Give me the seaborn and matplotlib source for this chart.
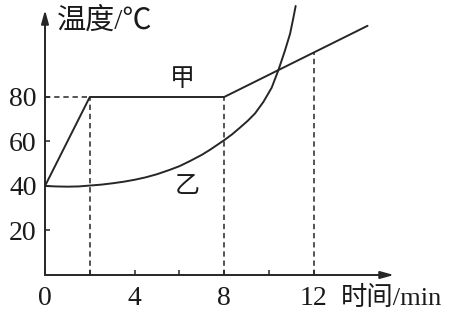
import matplotlib
matplotlib.use("Agg")
import matplotlib.pyplot as plt
import seaborn as sns
import pandas as pd

# Data
jia_time = [0, 2, 8, 12, 14.4]
jia_temp = [40, 80, 80, 100, 112]
yi_time = [0, 0.5, 1, 1.5, 2, 2.5, 3, 3.5, 4, 4.5, 5, 5.58, 6, 6.47, 7, 7.37, 8.0,
           8.35, 8.7, 9.05, 9.375, 9.75, 10.12, 10.42, 10.71, 10.94, 11.08, 11.19]
yi_temp = [40, 39.8, 39.7, 39.8, 40.2, 40.6, 41.2, 41.9, 42.8, 43.9, 45.3, 47.3, 48.9, 51.2, 54.0, 56.3, 60.6,
           63.2, 66.2, 69.3, 72.6, 77.8, 84.2, 92.1, 100.8, 108.4, 115.2, 120.9]
x_ticks = [0, 4, 8, 12]
x_minor = [2, 6, 10]
y_ticks = [20, 40, 60, 80]
guide_x = [2, 8, 12]
guide_top = [80, 80, 100]
series_labels = ["甲", "乙"]
x_label = "时间/min"
y_label = "温度/℃"

sns.set_style("white")
plt.rcParams['font.family'] = ['Liberation Serif', 'Noto Sans CJK SC', 'DejaVu Sans']

W, H = 468, 318
fig = plt.figure(figsize=(W / 100, H / 100), dpi=100)
ax = fig.add_axes([45 / W, 1 - 275 / H, 349 / W, 265 / H])
ax.set_xlim(0, 15.58)
ax.set_ylim(0, 119.1)
ax.patch.set_alpha(0)

col = "#262626"
df_jia = pd.DataFrame({"t": jia_time, "T": jia_temp})
df_yi = pd.DataFrame({"t": yi_time, "T": yi_temp})
sns.lineplot(data=df_jia, x="t", y="T", sort=False, color=col, lw=1.4, ax=ax, clip_on=False)
sns.lineplot(data=df_yi, x="t", y="T", sort=False, color=col, lw=1.4, ax=ax, clip_on=False)

dash = dict(color=col, lw=1.1, ls=(0, (3.5, 2.5)), clip_on=False)
ax.plot([0, 2], [80, 80], **dash)
for gx, gt in zip(guide_x, guide_top):
    ax.plot([gx, gx], [0, gt], **dash)

for s in ax.spines.values():
    s.set_visible(False)
ax.annotate("", xy=(1, 0), xytext=(0, 0), xycoords="axes fraction",
            arrowprops=dict(arrowstyle="-|>,head_length=0.8,head_width=0.22", color=col, lw=1.4, shrinkA=0, shrinkB=0))
ax.annotate("", xy=(0, 1), xytext=(0, 0), xycoords="axes fraction",
            arrowprops=dict(arrowstyle="-|>,head_length=0.8,head_width=0.22", color=col, lw=1.4, shrinkA=0, shrinkB=0))

ax.set_xticks(x_ticks)
ax.set_xticks(x_minor, minor=True)
ax.set_yticks(y_ticks)
ax.set_xticklabels([str(v) for v in x_ticks])
ax.set_yticklabels([str(v) for v in y_ticks])
ax.tick_params(axis="both", which="both", direction="in", length=3.5, width=1.1, color=col,
               labelsize=20, labelcolor="#1a1a1a", bottom=True, left=True)
ax.tick_params(axis="x", pad=8)
ax.tick_params(axis="y", pad=6)
ax.set_xlabel("")
ax.set_ylabel("")

fig.text(57 / W, 1 - 21 / H, y_label, fontsize=21, va="center", ha="left", color="#1a1a1a")
fig.text(341 / W, 1 - 298 / H, x_label, fontsize=19, va="center", ha="left", color="#1a1a1a")
ax.text(6.12, 87.6, series_labels[0], fontsize=18, ha="center", va="center", color="#1a1a1a")
ax.text(6.34, 39.5, series_labels[1], fontsize=18, ha="center", va="center", color="#1a1a1a")

fig.savefig("out.png", dpi=100)
